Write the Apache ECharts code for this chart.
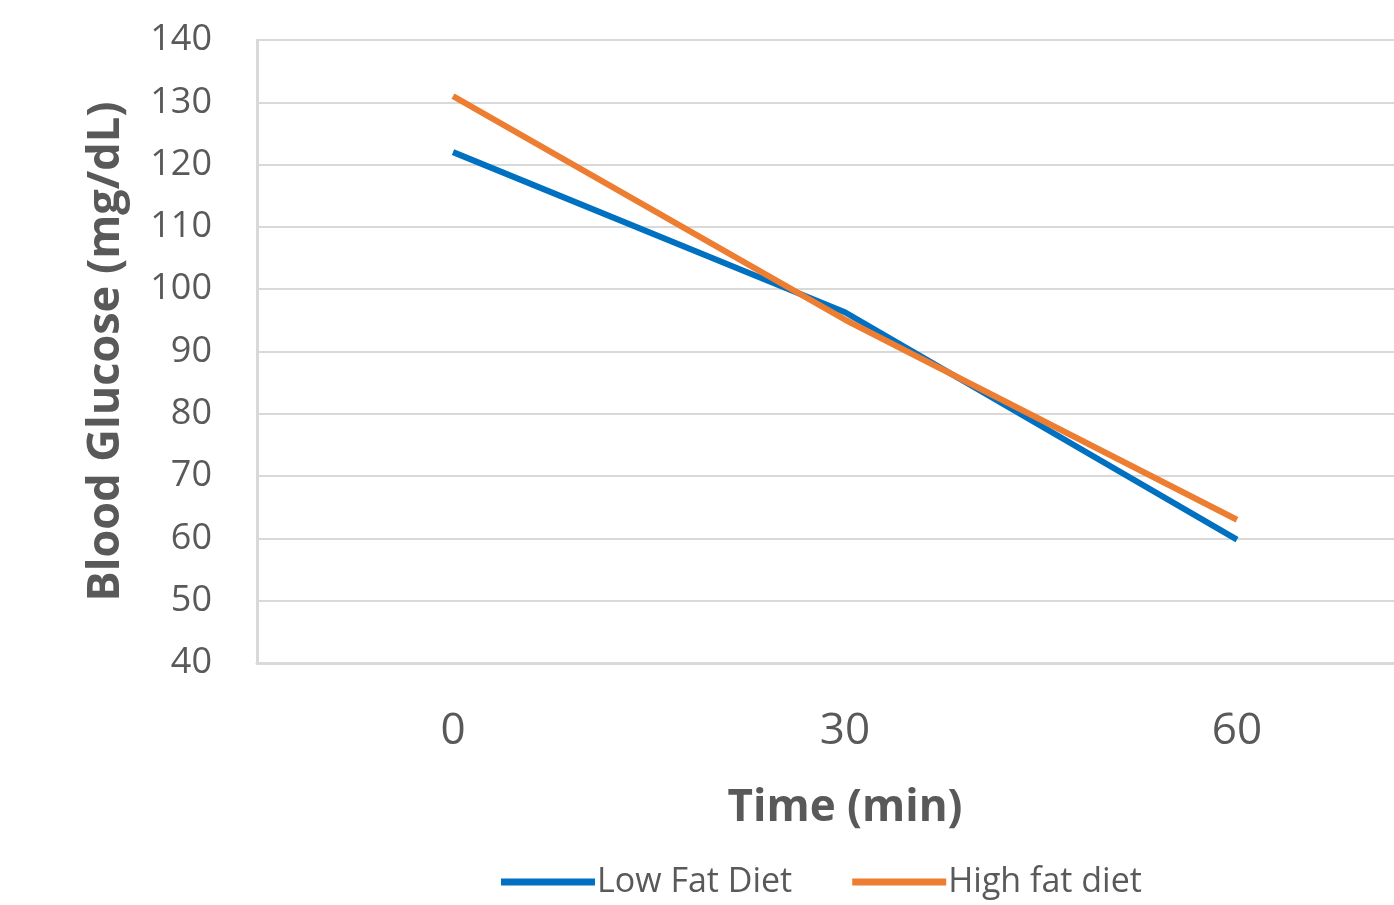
<!DOCTYPE html>
<html>
<head>
<meta charset="utf-8">
<script src="https://cdn.jsdelivr.net/npm/echarts@6/dist/echarts.min.js"></script>
<style>
html,body{margin:0;padding:0;background:#fff;overflow:hidden;}
#c{width:1433px;height:905px;}
</style>
</head>
<body>
<div id="c"></div>
<script>
const categories = ['0', '30', '60'];
const lowFat = [122, 96.3, 59.8];
const highFat = [131, 95.1, 63];
const yTicks = {min: 40, max: 140, interval: 10};

const FONT = 'Open Sans';
const chart = echarts.init(document.getElementById('c'));
chart.setOption({
  backgroundColor: '#ffffff',
  animation: false,
  grid: {left: 257, top: 40, bottom: 242, right: 0, containLabel: false},
  legend: {
    left: 496, top: 860,
    icon: 'rect', itemWidth: 94, itemHeight: 7, itemGap: 60,
    textStyle: {fontFamily: FONT, fontSize: 34, color: '#595959', padding: [0,0,0,-3]},
    data: ['Low Fat Diet', 'High fat diet']
  },
  xAxis: [{
    type: 'category',
    data: categories,
    boundaryGap: true,
    axisLine: {lineStyle: {color: '#d9d9d9', width: 3}},
    axisTick: {alignWithLabel: true, length: 15, lineStyle: {color: '#d9d9d9', width: 2}},
    axisLabel: {fontFamily: FONT, fontSize: 44, color: '#595959', margin: 46},
    name: 'Time (min)',
    nameLocation: 'middle',
    nameGap: 123,
    nameTextStyle: {fontFamily: FONT, fontSize: 44, fontWeight: 'bold', color: '#595959'}
  }, {
    type: 'category',
    data: categories,
    position: 'bottom',
    boundaryGap: true,
    axisLine: {show: false},
    axisTick: {alignWithLabel: true, inside: true, length: 14, lineStyle: {color: '#d9d9d9', width: 2}},
    axisLabel: {show: false}
  }],
  yAxis: {
    type: 'value',
    min: yTicks.min, max: yTicks.max, interval: yTicks.interval,
    axisLine: {show: true, lineStyle: {color: '#d9d9d9', width: 3}},
    axisTick: {show: false},
    splitLine: {lineStyle: {color: '#d9d9d9', width: 2}},
    axisLabel: {fontFamily: FONT, fontSize: 36, color: '#595959', margin: 45},
    name: 'Blood Glucose (mg/dL)',
    nameLocation: 'middle',
    nameGap: 128,
    nameTextStyle: {fontFamily: FONT, fontSize: 45, fontWeight: 'bold', color: '#595959'}
  },
  series: [{
    name: 'Low Fat Diet', type: 'line', data: lowFat,
    symbol: 'none', lineStyle: {color: '#0070C0', width: 6}, itemStyle: {color: '#0070C0'}
  }, {
    name: 'High fat diet', type: 'line', data: highFat,
    symbol: 'none', lineStyle: {color: '#ED7D31', width: 6}, itemStyle: {color: '#ED7D31'}
  }]
});
</script>
</body>
</html>
